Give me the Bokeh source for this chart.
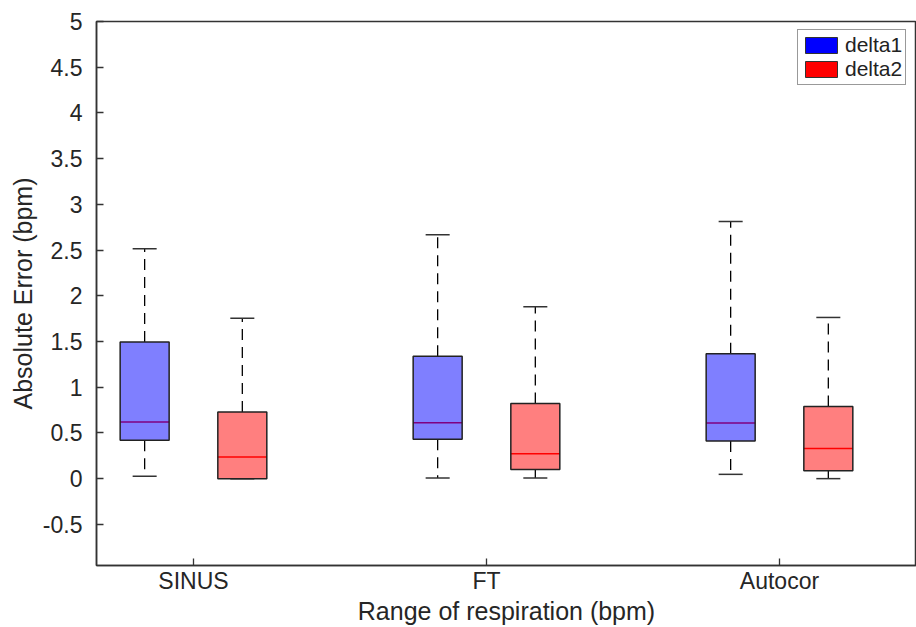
from bokeh.plotting import figure
from bokeh.models import FixedTicker, Legend, LegendItem, Range1d, ColumnDataSource
from bokeh.embed import file_html
from bokeh.resources import INLINE

# ---- data ----
categories = ["SINUS", "FT", "Autocor"]
series_names = ["delta1", "delta2"]

d1_lower = [0.025, 0.007, 0.047]
d1_q1 = [0.419, 0.430, 0.411]
d1_med = [0.619, 0.612, 0.608]
d1_q3 = [1.494, 1.340, 1.366]
d1_upper = [2.514, 2.667, 2.812]

d2_lower = [0.000, 0.007, 0.000]
d2_q1 = [0.000, 0.100, 0.087]
d2_med = [0.236, 0.273, 0.331]
d2_q3 = [0.728, 0.823, 0.790]
d2_upper = [1.755, 1.880, 1.763]

y_ticks = [-0.5, 0, 0.5, 1, 1.5, 2, 2.5, 3, 3.5, 4, 4.5, 5]

FONT = "Liberation Sans"
AX = "#333333"

p = figure(width=916, height=627, output_backend="svg", toolbar_location=None,
           x_range=Range1d(0.669, 3.4676), y_range=Range1d(-0.95, 5.0),
           min_border_left=96, min_border_top=21, min_border_bottom=62, min_border_right=0)
p.grid.visible = False
p.outline_line_color = AX
p.outline_line_width = 1.5
p.background_fill_color = "white"
p.border_fill_color = "white"

offset = 1.0 / 6.0
box_w = 0.1672
cap_w = 0.082

series = [
    (series_names[0], -offset, "#0000ff", d1_lower, d1_q1, d1_med, d1_q3, d1_upper),
    (series_names[1], offset, "#ff0000", d2_lower, d2_q1, d2_med, d2_q3, d2_upper),
]

legend_items = []
for name, off, color, lo, q1, med, q3, up in series:
    pos = [i + 1 + off for i in range(len(categories))]
    src = ColumnDataSource(dict(
        x=pos,
        left=[x - box_w / 2 for x in pos], right=[x + box_w / 2 for x in pos],
        capl=[x - cap_w / 2 for x in pos], capr=[x + cap_w / 2 for x in pos],
        lo=lo, q1=q1, med=med, q3=q3, up=up))
    # whiskers
    p.segment(x0="x", y0="q3", x1="x", y1="up", source=src, line_color="black",
              line_width=1.3, line_dash="11 7")
    p.segment(x0="x", y0="q1", x1="x", y1="lo", source=src, line_color="black",
              line_width=1.3, line_dash="11 7")
    # caps
    p.segment(x0="capl", y0="up", x1="capr", y1="up", source=src, line_color="#333333", line_width=1.5)
    p.segment(x0="capl", y0="lo", x1="capr", y1="lo", source=src, line_color="#333333", line_width=1.5)
    # median (red, under translucent box fill)
    p.segment(x0="left", y0="med", x1="right", y1="med", source=src, line_color="#ff0000", line_width=1.5)
    # box
    p.quad(left="left", right="right", bottom="q1", top="q3", source=src,
           fill_color=color, fill_alpha=0.5, line_color="#222222", line_width=1.5, line_alpha=1.0)
    # legend swatch (no visible data point)
    nan = float("nan")
    r = p.quad(left=[nan], right=[nan], bottom=[nan], top=[nan], fill_color=color,
               line_color="#333333", line_width=1)
    legend_items.append(LegendItem(label=name, renderers=[r]))

legend = Legend(items=legend_items, location=(701, 480))
legend.label_text_font = FONT
legend.label_text_font_size = "21px"
legend.label_text_color = "#222222"
legend.glyph_width = 40
legend.glyph_height = 20
legend.label_height = 20
legend.label_standoff = 4
legend.spacing = 0
legend.padding = 3
legend.margin = 0
legend.border_line_color = AX
legend.border_line_width = 1.5
legend.background_fill_alpha = 1.0
p.add_layout(legend)

# axes
p.xaxis.ticker = FixedTicker(ticks=[1, 2, 3])
p.xaxis.major_label_overrides = {i + 1: c for i, c in enumerate(categories)}
p.yaxis.ticker = FixedTicker(ticks=y_ticks)
p.yaxis.major_label_overrides = {t: ("%g" % t) for t in y_ticks}

for ax in (p.xaxis, p.yaxis):
    ax.axis_line_color = AX
    ax.axis_line_width = 1.5
    ax.major_tick_line_color = AX
    ax.major_tick_line_width = 1.3
    ax.major_tick_in = 7
    ax.major_tick_out = 0
    ax.minor_tick_line_color = None
    ax.major_label_text_font = FONT
    ax.major_label_text_font_size = "23px"
    ax.major_label_text_color = "#262626"
    ax.axis_label_text_font = FONT
    ax.axis_label_text_font_size = "25px"
    ax.axis_label_text_font_style = "normal"
    ax.axis_label_text_color = "#262626"

p.xaxis.axis_label = "Range of respiration (bpm)"
p.yaxis.axis_label = "Absolute Error (bpm)"
p.xaxis.major_label_standoff = 2
p.xaxis.axis_label_standoff = 0
p.yaxis.major_label_standoff = 14
p.yaxis.axis_label_standoff = 3

open("out.html", "w").write(file_html(p, INLINE))
